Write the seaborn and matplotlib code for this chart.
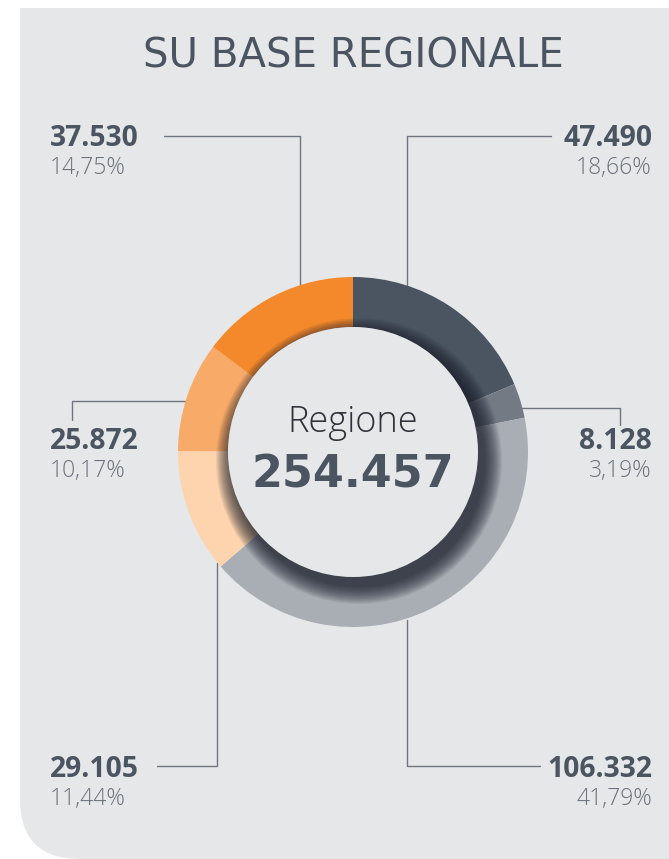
import seaborn as sns
import matplotlib.pyplot as plt
from matplotlib.patches import FancyBboxPatch, Circle, Rectangle

# data
labels = ["47.490", "8.128", "106.332", "29.105", "25.872", "37.530"]
values = [47490, 8128, 106332, 29105, 25872, 37530]
percents = ["18,66%", "3,19%", "41,79%", "11,44%", "10,17%", "14,75%"]
colors = ["#4a5561", "#737a84", "#a9adb4", "#fdd4ae", "#f8aa68", "#f4892c"]
title = "SU BASE REGIONALE"
center_label = "Regione"
total_label = "254.457"

W, H = 669, 859
DARK = "#4a5561"
GREY = "#6c727b"
LINE = "#6f7680"
PANEL = "#e6e7e9"


def Y(y):
    # pixel row -> data y
    return H - y


def main():
    sns.set_theme(style="white")
    plt.rcParams["font.family"] = ["Open Sans", "DejaVu Sans"]

    fig = plt.figure(figsize=(W / 100, H / 100), dpi=100)
    fig.patch.set_facecolor("white")
    ax = fig.add_axes([0, 0, 1, 1])

    # grey panel, rounded only at bottom-left
    ax.add_patch(FancyBboxPatch((20, 0), 900, 1000, boxstyle="round,pad=0,rounding_size=60",
                                fc=PANEL, ec="none", zorder=0))
    ax.add_patch(Rectangle((0, Y(8)), W + 10, 20, fc="white", ec="none", zorder=0.5))

    cx, cy, R, ring = 353, Y(452), 175, 50
    ax.pie(values, colors=colors, startangle=90, counterclock=False,
           center=(cx, cy), radius=R,
           wedgeprops=dict(width=ring, edgecolor="none", zorder=2))

    # soft shadow of the inner disc
    for r in range(18, 0, -1):
        ax.add_patch(Circle((cx + 6, cy - 9), R - ring + r, fc="#1a1e2a", ec="none",
                            alpha=0.065, zorder=3))
    ax.add_patch(Circle((cx, cy), R - ring, fc=PANEL, ec="none", zorder=4))

    ax.text(cx, Y(432), center_label, ha="center", va="baseline", fontsize=26,
            fontweight="light", color="#2f3238", zorder=5)
    ax.text(cx, Y(488), total_label, ha="center", va="baseline", fontsize=32,
            fontweight="bold", color=DARK, family="DejaVu Sans", zorder=5)

    ax.text(cx, Y(68), title, ha="center", va="baseline", fontsize=29,
            color=DARK, family="DejaVu Sans", zorder=5)

    # leader lines (pixel coords) and label anchors per slice
    leaders = [
        [(551, 136), (407, 136), (407, 285)],
        [(521, 408), (620, 408), (620, 425)],
        [(540, 766), (407, 766), (407, 620)],
        [(157, 766), (217, 766), (217, 563)],
        [(72, 420), (72, 401), (186, 401)],
        [(164, 136), (300, 136), (300, 285)],
    ]
    anchors = [(652, 146, "right"), (652, 449, "right"), (652, 777, "right"),
               (50, 777, "left"), (50, 449, "left"), (50, 146, "left")]

    for pts, (x, y, ha), lab, pct in zip(leaders, anchors, labels, percents):
        ax.plot([p[0] for p in pts], [Y(p[1]) for p in pts], color=LINE, lw=1, zorder=1)
        ax.text(x, Y(y), lab, ha=ha, va="baseline", fontsize=20.3, fontweight="bold",
                color=DARK, zorder=5)
        ax.text(x, Y(y + 28), pct, ha=ha, va="baseline", fontsize=16.5, fontweight="light",
                color=GREY, zorder=5)

    ax.set_xlim(0, W)
    ax.set_ylim(0, H)
    ax.set_axis_off()

    plt.savefig("out.png", dpi=100)


if __name__ == "__main__":
    main()
